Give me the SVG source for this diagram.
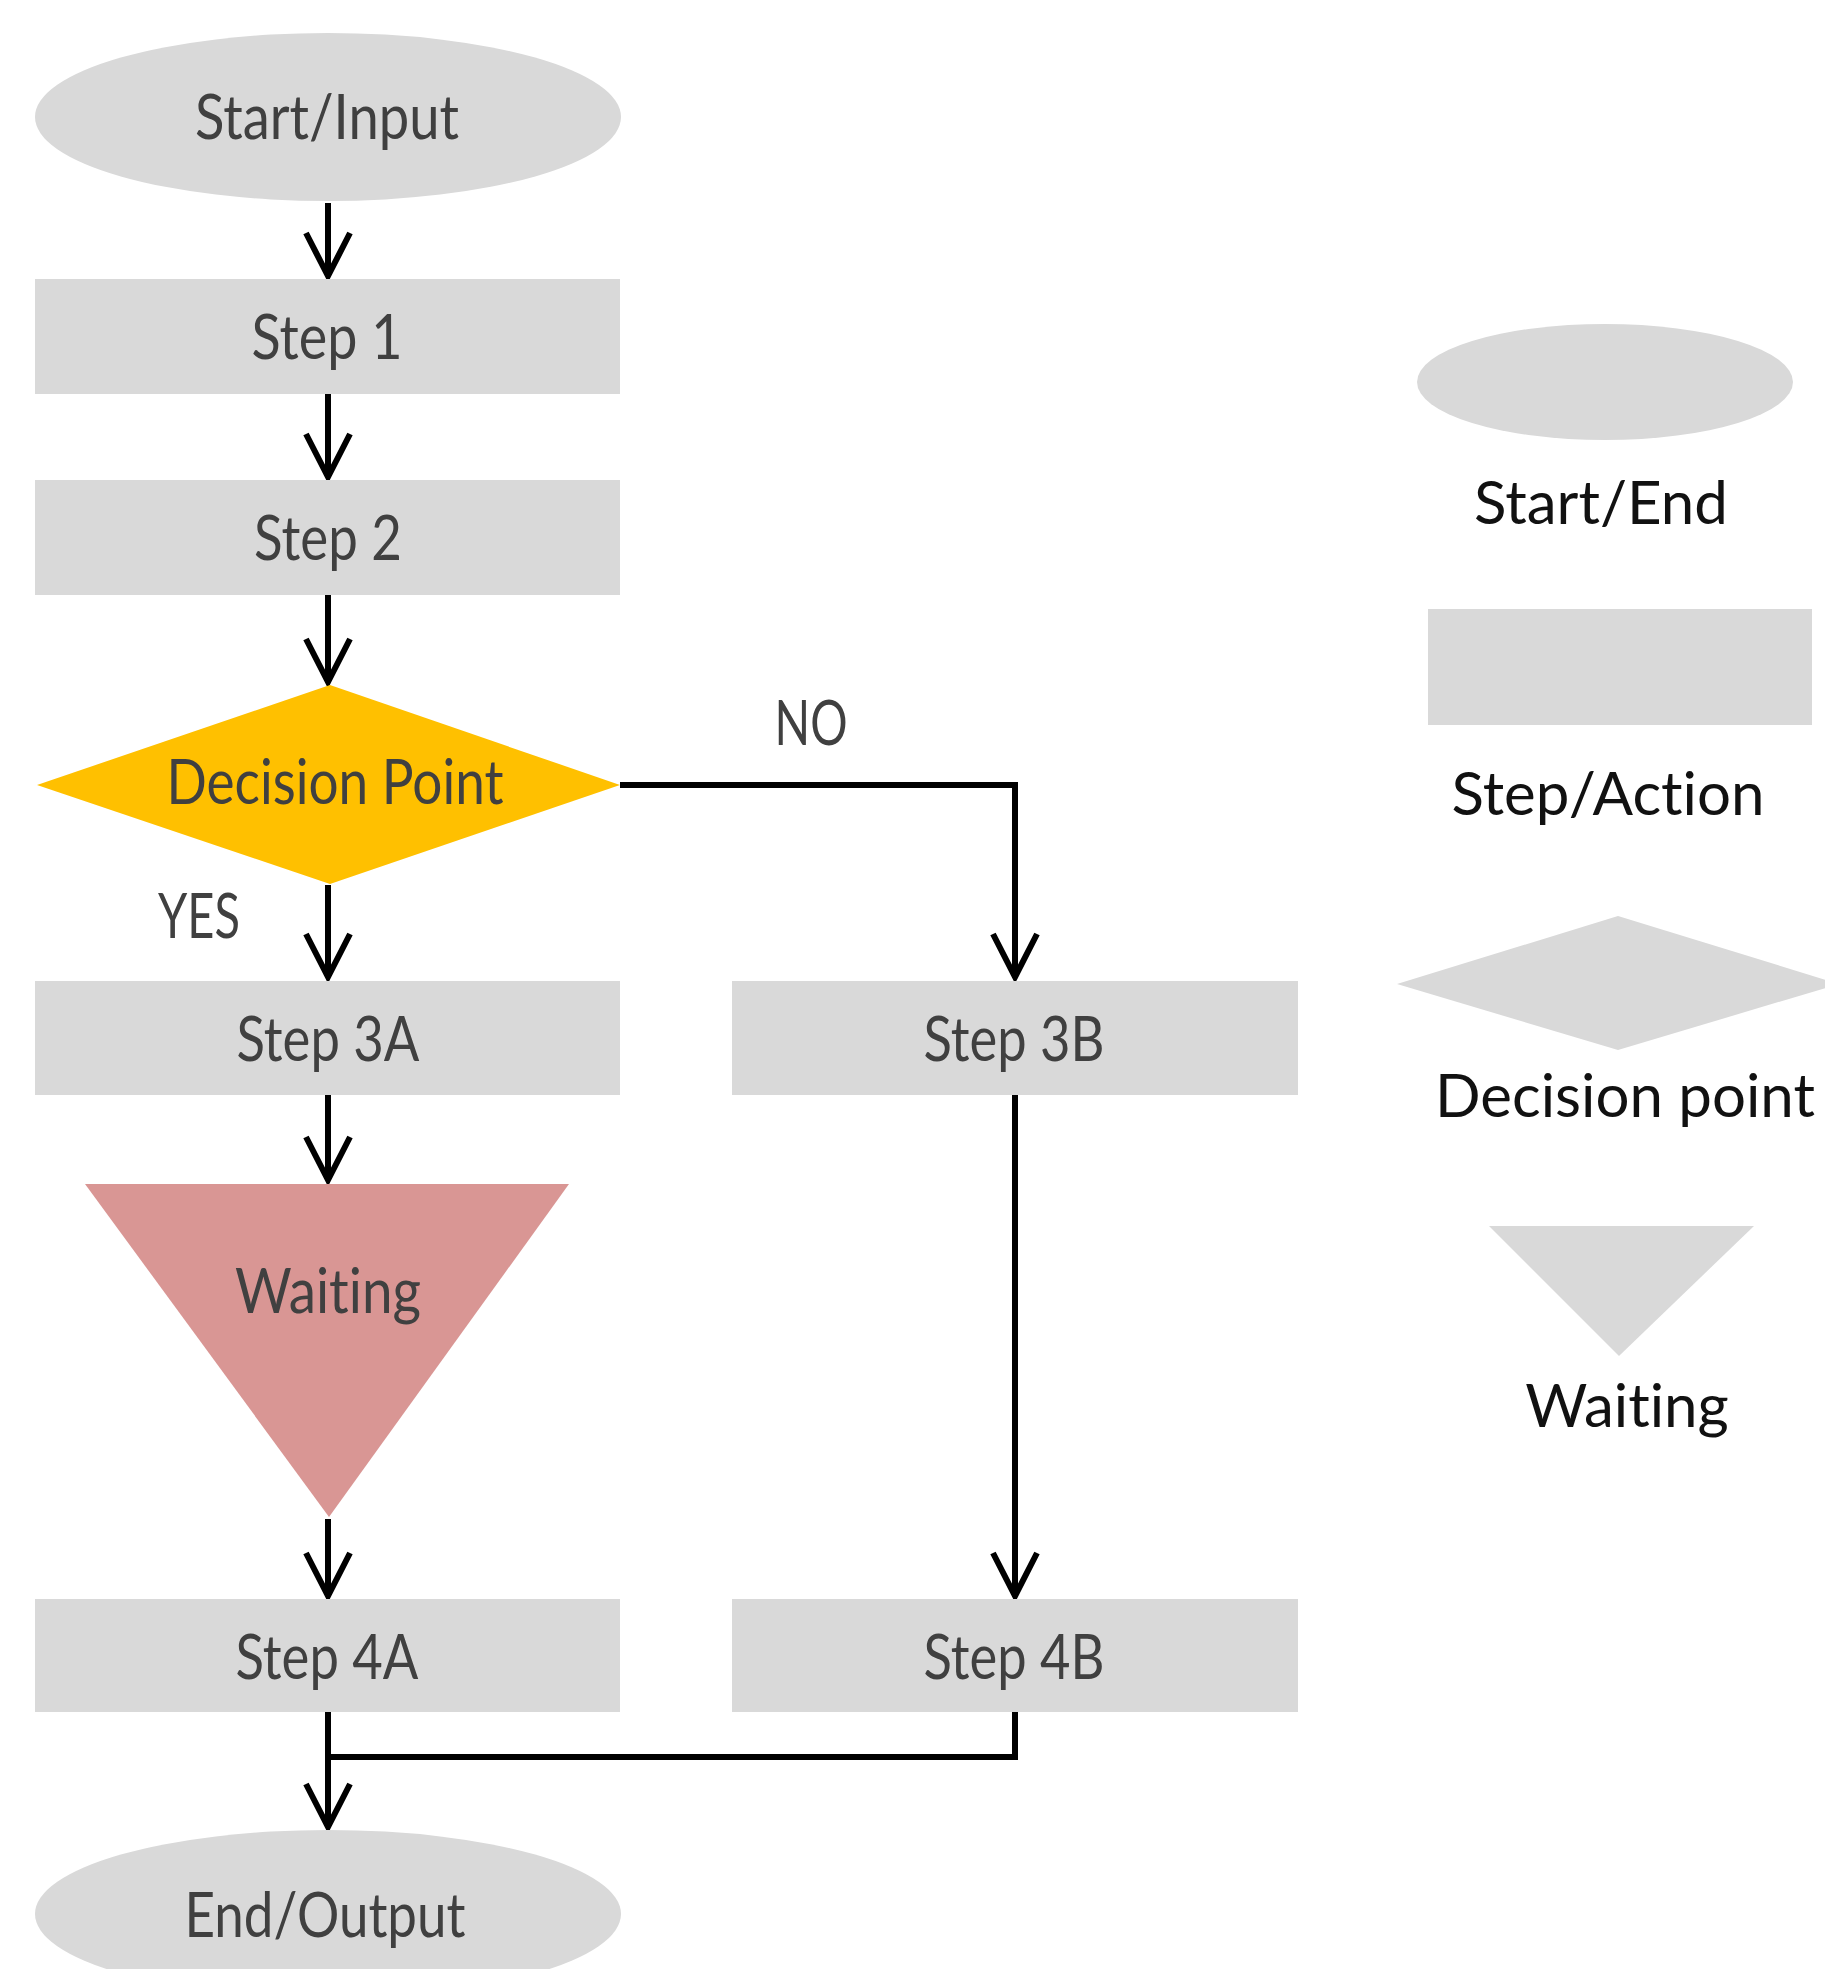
<svg xmlns="http://www.w3.org/2000/svg" width="1825" height="1969" viewBox="0 0 1825 1969">
<defs>
<style>
.box{fill:#D9D9D9}
.lbl{font-family:Lato,"Liberation Sans",sans-serif;font-size:62px;fill:#404040;text-anchor:middle;font-variant-ligatures:none}
.leg{font-family:Lato,"Liberation Sans",sans-serif;font-size:60px;fill:#111;text-anchor:middle;font-variant-ligatures:none}
.ln{fill:none;stroke:#000;stroke-width:6}
.arr{marker-end:url(#chev)}
</style>
<marker id="chev" markerUnits="userSpaceOnUse" markerWidth="60" markerHeight="60" refX="0" refY="0" orient="auto" overflow="visible">
<path d="M-43,-22 L0,0 L-43,22" fill="none" stroke="#000" stroke-width="6" stroke-linejoin="miter"/>
</marker>
</defs>
<rect width="1825" height="1969" fill="#fff"/>
<g id="connectors">
<line class="ln arr" x1="328" y1="203" x2="328" y2="276"/>
<line class="ln arr" x1="328" y1="394" x2="328" y2="477"/>
<line class="ln arr" x1="328" y1="595" x2="328" y2="682"/>
<line class="ln arr" x1="328" y1="885" x2="328" y2="977"/>
<path class="ln arr" d="M620,785 H1015 V977"/>
<line class="ln arr" x1="328" y1="1095" x2="328" y2="1180"/>
<line class="ln arr" x1="328" y1="1519" x2="328" y2="1596"/>
<line class="ln arr" x1="1015" y1="1095" x2="1015" y2="1596"/>
<line class="ln arr" x1="328" y1="1712" x2="328" y2="1827"/>
<path class="ln" d="M1015,1712 V1757 H328"/>
</g>
<g id="start">
<ellipse class="box" cx="328" cy="117" rx="293" ry="84"/>
<text class="lbl" x="327" y="139" textLength="264" lengthAdjust="spacingAndGlyphs">Start/Input</text>
</g>
<g id="step1">
<rect class="box" x="35" y="279" width="585" height="115"/>
<text class="lbl" x="327" y="359" textLength="151" lengthAdjust="spacingAndGlyphs">Step 1</text>
</g>
<g id="step2">
<rect class="box" x="35" y="480" width="585" height="115"/>
<text class="lbl" x="328" y="560" textLength="148" lengthAdjust="spacingAndGlyphs">Step 2</text>
</g>
<g id="decision">
<polygon points="37,785 330,685 620,785 330,884" fill="#FFC000"/>
<text class="lbl" x="335" y="804" textLength="337" lengthAdjust="spacingAndGlyphs">Decision Point</text>
</g>
<g id="label-no"><text class="lbl" x="811" y="745" textLength="73" lengthAdjust="spacingAndGlyphs">NO</text></g>
<g id="label-yes"><text class="lbl" x="199" y="938" textLength="82" lengthAdjust="spacingAndGlyphs">YES</text></g>
<g id="step3a">
<rect class="box" x="35" y="981" width="585" height="114"/>
<text class="lbl" x="328" y="1061" textLength="183" lengthAdjust="spacingAndGlyphs">Step 3A</text>
</g>
<g id="step3b">
<rect class="box" x="732" y="981" width="566" height="114"/>
<text class="lbl" x="1014" y="1061" textLength="181" lengthAdjust="spacingAndGlyphs">Step 3B</text>
</g>
<g id="waiting">
<polygon points="85,1184 569,1184 329,1517" fill="#D99694"/>
<text class="lbl" x="328" y="1313" textLength="186" lengthAdjust="spacingAndGlyphs">Waiting</text>
</g>
<g id="step4a">
<rect class="box" x="35" y="1599" width="585" height="113"/>
<text class="lbl" x="327" y="1679" textLength="183" lengthAdjust="spacingAndGlyphs">Step 4A</text>
</g>
<g id="step4b">
<rect class="box" x="732" y="1599" width="566" height="113"/>
<text class="lbl" x="1014" y="1679" textLength="181" lengthAdjust="spacingAndGlyphs">Step 4B</text>
</g>
<g id="end">
<ellipse class="box" cx="328" cy="1914" rx="293" ry="84"/>
<text class="lbl" x="325" y="1937" textLength="281" lengthAdjust="spacingAndGlyphs">End/Output</text>
</g>
<g id="legend-startend">
<ellipse class="box" cx="1605" cy="382" rx="188" ry="58"/>
<text class="leg" x="1601" y="524">Start/End</text>
</g>
<g id="legend-step">
<rect class="box" x="1428" y="609" width="384" height="116"/>
<text class="leg" x="1608" y="815">Step/Action</text>
</g>
<g id="legend-decision">
<polygon points="1397,984 1618,916 1839,984 1618,1050" fill="#D9D9D9"/>
<text class="leg" x="1625" y="1117">Decision point</text>
</g>
<g id="legend-waiting">
<polygon points="1489,1226 1754,1226 1619,1356" fill="#D9D9D9"/>
<text class="leg" x="1627" y="1427">Waiting</text>
</g>
</svg>
